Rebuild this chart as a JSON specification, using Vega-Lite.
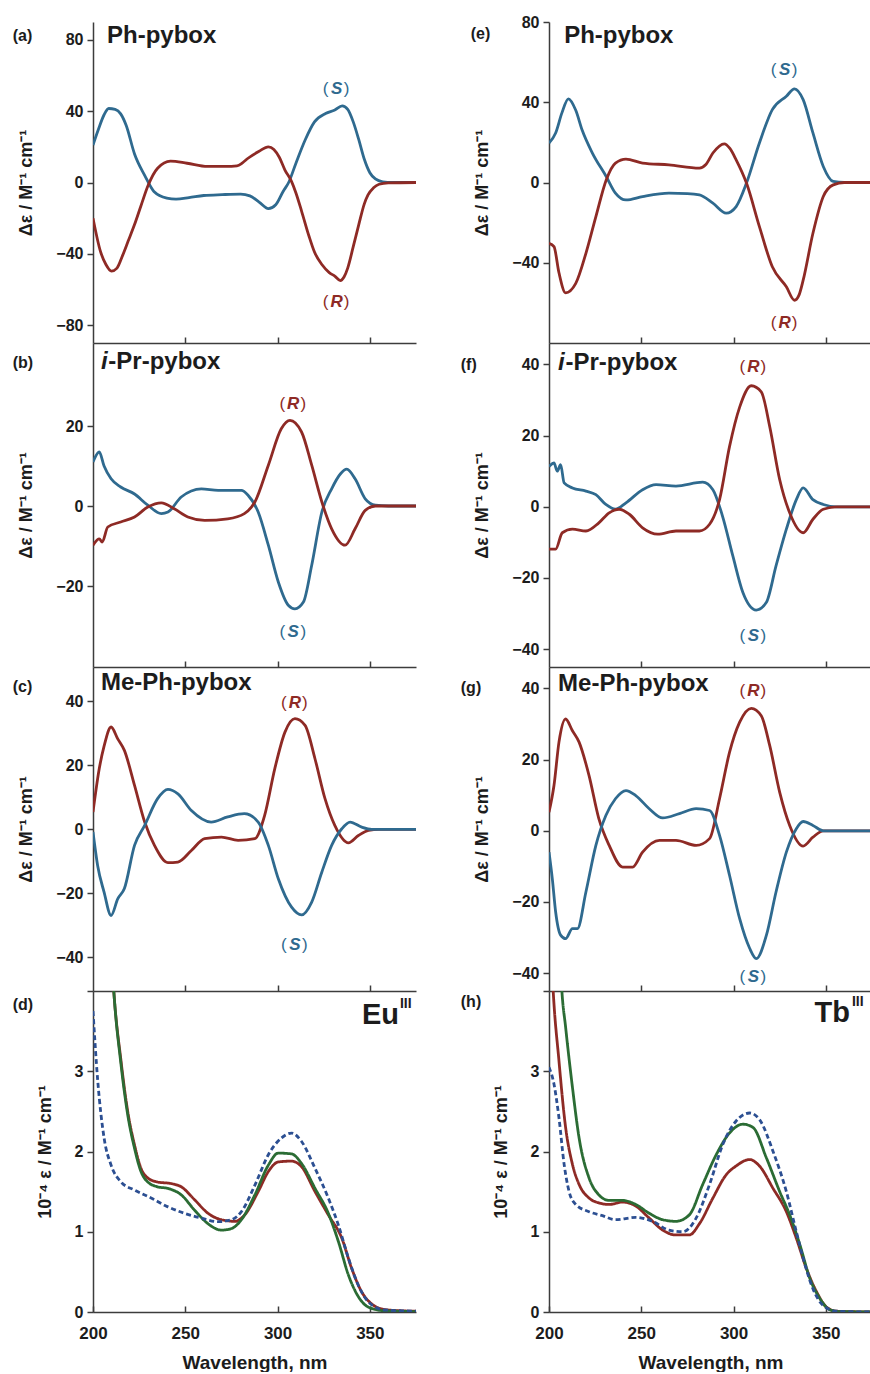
{
"$schema": "https://vega.github.io/schema/vega-lite/v6.json",
"padding": {"left": 12, "top": 14, "right": 0, "bottom": 0},
"background": "white",
"columns": 2,
"spacing": {"row": 0, "column": 133},
"bounds": "flush",
"resolve": {"scale": {"x": "independent", "y": "independent"}},
"datasets": {
"curves": [
{"p":"a","s":"S","wl":200,"v":21},{"p":"a","s":"S","wl":203,"v":30},{"p":"a","s":"S","wl":206,"v":38},{"p":"a","s":"S","wl":208.5,"v":41.5},{"p":"a","s":"S","wl":212,"v":41},{"p":"a","s":"S","wl":215,"v":38.5},{"p":"a","s":"S","wl":218,"v":32},{"p":"a","s":"S","wl":222.5,"v":16},{"p":"a","s":"S","wl":228,"v":4},{"p":"a","s":"S","wl":233,"v":-5},{"p":"a","s":"S","wl":240,"v":-8.7},{"p":"a","s":"S","wl":245,"v":-9.3},{"p":"a","s":"S","wl":252,"v":-8.5},{"p":"a","s":"S","wl":260,"v":-7.3},{"p":"a","s":"S","wl":270,"v":-6.8},{"p":"a","s":"S","wl":280,"v":-6.5},{"p":"a","s":"S","wl":285,"v":-7.5},{"p":"a","s":"S","wl":290,"v":-11},{"p":"a","s":"S","wl":295,"v":-14.7},{"p":"a","s":"S","wl":299,"v":-12.5},{"p":"a","s":"S","wl":303,"v":-5},{"p":"a","s":"S","wl":306,"v":0},{"p":"a","s":"S","wl":310,"v":11},{"p":"a","s":"S","wl":315,"v":24},{"p":"a","s":"S","wl":320,"v":34},{"p":"a","s":"S","wl":326,"v":38.7},{"p":"a","s":"S","wl":331,"v":40.6},{"p":"a","s":"S","wl":335,"v":43},{"p":"a","s":"S","wl":338,"v":41},{"p":"a","s":"S","wl":341,"v":34},{"p":"a","s":"S","wl":344,"v":24},{"p":"a","s":"S","wl":347,"v":13},{"p":"a","s":"S","wl":350,"v":5.5},{"p":"a","s":"S","wl":353,"v":2},{"p":"a","s":"S","wl":357,"v":0.4},{"p":"a","s":"S","wl":362,"v":0},{"p":"a","s":"S","wl":375,"v":0},
{"p":"a","s":"R","wl":200,"v":-20},{"p":"a","s":"R","wl":204,"v":-38.5},{"p":"a","s":"R","wl":207,"v":-46},{"p":"a","s":"R","wl":210,"v":-49.7},{"p":"a","s":"R","wl":213,"v":-48},{"p":"a","s":"R","wl":216,"v":-41},{"p":"a","s":"R","wl":219,"v":-33},{"p":"a","s":"R","wl":222.5,"v":-23.6},{"p":"a","s":"R","wl":226,"v":-13},{"p":"a","s":"R","wl":230,"v":-1.3},{"p":"a","s":"R","wl":235,"v":8},{"p":"a","s":"R","wl":242,"v":12},{"p":"a","s":"R","wl":251,"v":10.8},{"p":"a","s":"R","wl":262,"v":9},{"p":"a","s":"R","wl":272,"v":9},{"p":"a","s":"R","wl":278,"v":9.3},{"p":"a","s":"R","wl":281,"v":11},{"p":"a","s":"R","wl":284,"v":13.6},{"p":"a","s":"R","wl":290,"v":17.5},{"p":"a","s":"R","wl":295,"v":20},{"p":"a","s":"R","wl":298,"v":18.5},{"p":"a","s":"R","wl":301,"v":14},{"p":"a","s":"R","wl":304,"v":7},{"p":"a","s":"R","wl":307.6,"v":0.5},{"p":"a","s":"R","wl":310,"v":-6},{"p":"a","s":"R","wl":313,"v":-16},{"p":"a","s":"R","wl":317,"v":-30},{"p":"a","s":"R","wl":320,"v":-39},{"p":"a","s":"R","wl":324,"v":-46},{"p":"a","s":"R","wl":328,"v":-50.5},{"p":"a","s":"R","wl":331,"v":-52.5},{"p":"a","s":"R","wl":334,"v":-55},{"p":"a","s":"R","wl":336,"v":-53},{"p":"a","s":"R","wl":338,"v":-48},{"p":"a","s":"R","wl":341,"v":-36},{"p":"a","s":"R","wl":344,"v":-23.6},{"p":"a","s":"R","wl":347,"v":-12},{"p":"a","s":"R","wl":349,"v":-7},{"p":"a","s":"R","wl":352,"v":-3},{"p":"a","s":"R","wl":355,"v":-1},{"p":"a","s":"R","wl":360,"v":-0.2},{"p":"a","s":"R","wl":375,"v":0},
{"p":"e","s":"S","wl":200,"v":19.7},{"p":"e","s":"S","wl":203.6,"v":24.7},{"p":"e","s":"S","wl":207,"v":34.7},{"p":"e","s":"S","wl":210.5,"v":41.7},{"p":"e","s":"S","wl":214.5,"v":36},{"p":"e","s":"S","wl":218,"v":26},{"p":"e","s":"S","wl":223.5,"v":14.7},{"p":"e","s":"S","wl":231,"v":3},{"p":"e","s":"S","wl":236,"v":-5.3},{"p":"e","s":"S","wl":241.7,"v":-8.7},{"p":"e","s":"S","wl":250.7,"v":-7},{"p":"e","s":"S","wl":265,"v":-5.3},{"p":"e","s":"S","wl":275,"v":-5.5},{"p":"e","s":"S","wl":281.5,"v":-6.2},{"p":"e","s":"S","wl":288.8,"v":-10.3},{"p":"e","s":"S","wl":296,"v":-15.3},{"p":"e","s":"S","wl":301.4,"v":-12},{"p":"e","s":"S","wl":307,"v":-0.3},{"p":"e","s":"S","wl":314,"v":19.7},{"p":"e","s":"S","wl":321,"v":36.3},{"p":"e","s":"S","wl":328.6,"v":43},{"p":"e","s":"S","wl":333,"v":46.7},{"p":"e","s":"S","wl":337.7,"v":41.3},{"p":"e","s":"S","wl":343,"v":24.7},{"p":"e","s":"S","wl":348.6,"v":8},{"p":"e","s":"S","wl":354,"v":0.5},{"p":"e","s":"S","wl":360,"v":0},{"p":"e","s":"S","wl":375,"v":0},
{"p":"e","s":"R","wl":200,"v":-30.3},{"p":"e","s":"R","wl":202.7,"v":-32},{"p":"e","s":"R","wl":205.4,"v":-45},{"p":"e","s":"R","wl":209,"v":-55},{"p":"e","s":"R","wl":214.5,"v":-50.3},{"p":"e","s":"R","wl":220,"v":-35.3},{"p":"e","s":"R","wl":225.4,"v":-17},{"p":"e","s":"R","wl":231,"v":1.3},{"p":"e","s":"R","wl":236,"v":9.7},{"p":"e","s":"R","wl":241.7,"v":11.7},{"p":"e","s":"R","wl":250.7,"v":9.7},{"p":"e","s":"R","wl":265,"v":8.8},{"p":"e","s":"R","wl":281.5,"v":7.2},{"p":"e","s":"R","wl":285,"v":9},{"p":"e","s":"R","wl":288.8,"v":14.7},{"p":"e","s":"R","wl":295,"v":19.3},{"p":"e","s":"R","wl":298,"v":17},{"p":"e","s":"R","wl":301.4,"v":11.3},{"p":"e","s":"R","wl":307,"v":-0.3},{"p":"e","s":"R","wl":314,"v":-22},{"p":"e","s":"R","wl":321,"v":-42},{"p":"e","s":"R","wl":328.6,"v":-52},{"p":"e","s":"R","wl":333,"v":-58.7},{"p":"e","s":"R","wl":335.5,"v":-56},{"p":"e","s":"R","wl":337.7,"v":-48.7},{"p":"e","s":"R","wl":343,"v":-25.3},{"p":"e","s":"R","wl":348.6,"v":-7},{"p":"e","s":"R","wl":354,"v":-1.2},{"p":"e","s":"R","wl":360,"v":0},{"p":"e","s":"R","wl":375,"v":0},
{"p":"b","s":"S","wl":200,"v":11},{"p":"b","s":"S","wl":203.4,"v":13.5},{"p":"b","s":"S","wl":206,"v":10},{"p":"b","s":"S","wl":209.8,"v":6.8},{"p":"b","s":"S","wl":215,"v":4.75},{"p":"b","s":"S","wl":222.5,"v":3},{"p":"b","s":"S","wl":229.7,"v":0.2},{"p":"b","s":"S","wl":237,"v":-1.9},{"p":"b","s":"S","wl":240.6,"v":-1.5},{"p":"b","s":"S","wl":247.8,"v":2.25},{"p":"b","s":"S","wl":258.7,"v":4.3},{"p":"b","s":"S","wl":267.8,"v":3.9},{"p":"b","s":"S","wl":280.4,"v":3.9},{"p":"b","s":"S","wl":284,"v":2.7},{"p":"b","s":"S","wl":289.5,"v":-1.5},{"p":"b","s":"S","wl":295,"v":-9.8},{"p":"b","s":"S","wl":300.4,"v":-19},{"p":"b","s":"S","wl":305.8,"v":-24.8},{"p":"b","s":"S","wl":309.4,"v":-25.7},{"p":"b","s":"S","wl":314,"v":-24},{"p":"b","s":"S","wl":318.5,"v":-14.8},{"p":"b","s":"S","wl":324,"v":-1.5},{"p":"b","s":"S","wl":329.3,"v":4.3},{"p":"b","s":"S","wl":334,"v":8},{"p":"b","s":"S","wl":337.5,"v":9.2},{"p":"b","s":"S","wl":342,"v":6.8},{"p":"b","s":"S","wl":347.5,"v":1.8},{"p":"b","s":"S","wl":353,"v":0.2},{"p":"b","s":"S","wl":360,"v":0},{"p":"b","s":"S","wl":375,"v":0},
{"p":"b","s":"R","wl":200,"v":-9.8},{"p":"b","s":"R","wl":203.4,"v":-8.2},{"p":"b","s":"R","wl":205,"v":-9},{"p":"b","s":"R","wl":208,"v":-5.25},{"p":"b","s":"R","wl":215,"v":-4},{"p":"b","s":"R","wl":222.5,"v":-2.75},{"p":"b","s":"R","wl":229.7,"v":-0.25},{"p":"b","s":"R","wl":237,"v":0.8},{"p":"b","s":"R","wl":244,"v":-0.7},{"p":"b","s":"R","wl":251.4,"v":-2.75},{"p":"b","s":"R","wl":260.5,"v":-3.6},{"p":"b","s":"R","wl":273,"v":-3.2},{"p":"b","s":"R","wl":282,"v":-1.9},{"p":"b","s":"R","wl":287.7,"v":1},{"p":"b","s":"R","wl":295,"v":10.2},{"p":"b","s":"R","wl":302,"v":19.3},{"p":"b","s":"R","wl":306.7,"v":21.4},{"p":"b","s":"R","wl":313,"v":18.5},{"p":"b","s":"R","wl":318.5,"v":10.2},{"p":"b","s":"R","wl":324,"v":1},{"p":"b","s":"R","wl":329.3,"v":-5.7},{"p":"b","s":"R","wl":336.6,"v":-9.8},{"p":"b","s":"R","wl":342,"v":-5.7},{"p":"b","s":"R","wl":347.5,"v":-1.1},{"p":"b","s":"R","wl":353,"v":0},{"p":"b","s":"R","wl":375,"v":0},
{"p":"f","s":"S","wl":200,"v":11.3},{"p":"f","s":"S","wl":202.7,"v":12.3},{"p":"f","s":"S","wl":204.5,"v":10},{"p":"f","s":"S","wl":206.3,"v":11.8},{"p":"f","s":"S","wl":208.2,"v":6.7},{"p":"f","s":"S","wl":212.7,"v":5.3},{"p":"f","s":"S","wl":220,"v":4.4},{"p":"f","s":"S","wl":225.4,"v":3.4},{"p":"f","s":"S","wl":230.8,"v":0.65},{"p":"f","s":"S","wl":236,"v":-0.7},{"p":"f","s":"S","wl":241.7,"v":1.1},{"p":"f","s":"S","wl":250.7,"v":4.8},{"p":"f","s":"S","wl":258,"v":6.2},{"p":"f","s":"S","wl":268.8,"v":5.8},{"p":"f","s":"S","wl":283.3,"v":6.9},{"p":"f","s":"S","wl":288.8,"v":4.8},{"p":"f","s":"S","wl":294,"v":-2.6},{"p":"f","s":"S","wl":299.6,"v":-13.8},{"p":"f","s":"S","wl":305,"v":-24},{"p":"f","s":"S","wl":312.3,"v":-29},{"p":"f","s":"S","wl":317.8,"v":-26.8},{"p":"f","s":"S","wl":323,"v":-16.6},{"p":"f","s":"S","wl":328.6,"v":-6.3},{"p":"f","s":"S","wl":334,"v":2},{"p":"f","s":"S","wl":337.7,"v":5.3},{"p":"f","s":"S","wl":343,"v":2},{"p":"f","s":"S","wl":348.6,"v":0.65},{"p":"f","s":"S","wl":355.8,"v":0},{"p":"f","s":"S","wl":375,"v":0},
{"p":"f","s":"R","wl":200,"v":-11.9},{"p":"f","s":"R","wl":203.6,"v":-11.9},{"p":"f","s":"R","wl":207.2,"v":-7.3},{"p":"f","s":"R","wl":212.7,"v":-6.3},{"p":"f","s":"R","wl":220,"v":-6.8},{"p":"f","s":"R","wl":227,"v":-4.5},{"p":"f","s":"R","wl":232.6,"v":-1.7},{"p":"f","s":"R","wl":238,"v":-0.7},{"p":"f","s":"R","wl":243.5,"v":-2.1},{"p":"f","s":"R","wl":250.7,"v":-5.9},{"p":"f","s":"R","wl":258.9,"v":-7.7},{"p":"f","s":"R","wl":268.8,"v":-6.8},{"p":"f","s":"R","wl":281.5,"v":-6.8},{"p":"f","s":"R","wl":287,"v":-4.9},{"p":"f","s":"R","wl":292.4,"v":2},{"p":"f","s":"R","wl":297.8,"v":16.9},{"p":"f","s":"R","wl":303.3,"v":28},{"p":"f","s":"R","wl":309.6,"v":34},{"p":"f","s":"R","wl":315,"v":32.3},{"p":"f","s":"R","wl":319.6,"v":22.5},{"p":"f","s":"R","wl":325,"v":7.6},{"p":"f","s":"R","wl":330.4,"v":-1.7},{"p":"f","s":"R","wl":337.7,"v":-7.3},{"p":"f","s":"R","wl":343,"v":-3.5},{"p":"f","s":"R","wl":348.6,"v":-0.7},{"p":"f","s":"R","wl":355.8,"v":0},{"p":"f","s":"R","wl":375,"v":0},
{"p":"c","s":"R","wl":200,"v":5.4},{"p":"c","s":"R","wl":203.4,"v":19},{"p":"c","s":"R","wl":206,"v":26},{"p":"c","s":"R","wl":209.8,"v":32},{"p":"c","s":"R","wl":213.4,"v":28.3},{"p":"c","s":"R","wl":217,"v":24.7},{"p":"c","s":"R","wl":222.5,"v":13.75},{"p":"c","s":"R","wl":228,"v":2.3},{"p":"c","s":"R","wl":233.3,"v":-5},{"p":"c","s":"R","wl":240.6,"v":-10.4},{"p":"c","s":"R","wl":246,"v":-10.2},{"p":"c","s":"R","wl":253.3,"v":-6.6},{"p":"c","s":"R","wl":260.5,"v":-2.9},{"p":"c","s":"R","wl":269.6,"v":-2.4},{"p":"c","s":"R","wl":278.6,"v":-3.4},{"p":"c","s":"R","wl":287.7,"v":-2.9},{"p":"c","s":"R","wl":293,"v":4.4},{"p":"c","s":"R","wl":298.5,"v":19},{"p":"c","s":"R","wl":304,"v":30.4},{"p":"c","s":"R","wl":309.4,"v":34.6},{"p":"c","s":"R","wl":314.9,"v":32.5},{"p":"c","s":"R","wl":320.3,"v":22},{"p":"c","s":"R","wl":325.7,"v":9.6},{"p":"c","s":"R","wl":331,"v":1.25},{"p":"c","s":"R","wl":338.4,"v":-4.2},{"p":"c","s":"R","wl":343.8,"v":-1.9},{"p":"c","s":"R","wl":349.3,"v":-0.3},{"p":"c","s":"R","wl":355,"v":0},{"p":"c","s":"R","wl":375,"v":0},
{"p":"c","s":"S","wl":200,"v":-0.8},{"p":"c","s":"S","wl":202.5,"v":-11.25},{"p":"c","s":"S","wl":206,"v":-19.6},{"p":"c","s":"S","wl":209.8,"v":-26.9},{"p":"c","s":"S","wl":213.4,"v":-21.7},{"p":"c","s":"S","wl":217,"v":-18.5},{"p":"c","s":"S","wl":222.5,"v":-5},{"p":"c","s":"S","wl":228,"v":1.25},{"p":"c","s":"S","wl":235,"v":9.6},{"p":"c","s":"S","wl":240.6,"v":12.5},{"p":"c","s":"S","wl":246,"v":11.1},{"p":"c","s":"S","wl":253.3,"v":5.9},{"p":"c","s":"S","wl":264,"v":2.3},{"p":"c","s":"S","wl":273,"v":3.9},{"p":"c","s":"S","wl":282,"v":4.9},{"p":"c","s":"S","wl":289.5,"v":2.3},{"p":"c","s":"S","wl":295,"v":-5},{"p":"c","s":"S","wl":300.4,"v":-15.4},{"p":"c","s":"S","wl":307.6,"v":-24.3},{"p":"c","s":"S","wl":313,"v":-26.7},{"p":"c","s":"S","wl":318.5,"v":-22.7},{"p":"c","s":"S","wl":324,"v":-13.3},{"p":"c","s":"S","wl":329.3,"v":-5},{"p":"c","s":"S","wl":334.8,"v":0.2},{"p":"c","s":"S","wl":339.3,"v":2.3},{"p":"c","s":"S","wl":345.6,"v":0.7},{"p":"c","s":"S","wl":351,"v":0},{"p":"c","s":"S","wl":375,"v":0},
{"p":"g","s":"R","wl":200,"v":5.2},{"p":"g","s":"R","wl":202.7,"v":12.7},{"p":"g","s":"R","wl":205.4,"v":24.9},{"p":"g","s":"R","wl":209,"v":31.4},{"p":"g","s":"R","wl":212.7,"v":28.1},{"p":"g","s":"R","wl":216.3,"v":24.9},{"p":"g","s":"R","wl":221.7,"v":15.5},{"p":"g","s":"R","wl":227,"v":3.4},{"p":"g","s":"R","wl":232.6,"v":-4.1},{"p":"g","s":"R","wl":239.9,"v":-10.2},{"p":"g","s":"R","wl":245.3,"v":-10.2},{"p":"g","s":"R","wl":250.7,"v":-6},{"p":"g","s":"R","wl":259.8,"v":-2.7},{"p":"g","s":"R","wl":268.8,"v":-2.7},{"p":"g","s":"R","wl":279.7,"v":-4.1},{"p":"g","s":"R","wl":287,"v":-2.2},{"p":"g","s":"R","wl":292.4,"v":9},{"p":"g","s":"R","wl":297.8,"v":22},{"p":"g","s":"R","wl":303.3,"v":30.5},{"p":"g","s":"R","wl":309.6,"v":34.4},{"p":"g","s":"R","wl":315,"v":32.3},{"p":"g","s":"R","wl":319.6,"v":23.9},{"p":"g","s":"R","wl":325,"v":10.8},{"p":"g","s":"R","wl":330.4,"v":1.5},{"p":"g","s":"R","wl":337.7,"v":-4.3},{"p":"g","s":"R","wl":343,"v":-1.8},{"p":"g","s":"R","wl":348.6,"v":0},{"p":"g","s":"R","wl":375,"v":0},
{"p":"g","s":"S","wl":200,"v":-6},{"p":"g","s":"S","wl":201.8,"v":-13.5},{"p":"g","s":"S","wl":203.6,"v":-22.8},{"p":"g","s":"S","wl":206.3,"v":-29.3},{"p":"g","s":"S","wl":209,"v":-30.3},{"p":"g","s":"S","wl":212.7,"v":-27.5},{"p":"g","s":"S","wl":215.4,"v":-27.5},{"p":"g","s":"S","wl":220,"v":-17.2},{"p":"g","s":"S","wl":225.4,"v":-4.1},{"p":"g","s":"S","wl":230.8,"v":4.3},{"p":"g","s":"S","wl":236,"v":9},{"p":"g","s":"S","wl":241.7,"v":11.3},{"p":"g","s":"S","wl":247,"v":9.9},{"p":"g","s":"S","wl":254.3,"v":6.2},{"p":"g","s":"S","wl":261.6,"v":3.6},{"p":"g","s":"S","wl":270.7,"v":4.8},{"p":"g","s":"S","wl":279.7,"v":6.2},{"p":"g","s":"S","wl":287,"v":5.7},{"p":"g","s":"S","wl":292.4,"v":-1.3},{"p":"g","s":"S","wl":297.8,"v":-12.5},{"p":"g","s":"S","wl":303.3,"v":-24.7},{"p":"g","s":"S","wl":308.7,"v":-33},{"p":"g","s":"S","wl":312.3,"v":-35.9},{"p":"g","s":"S","wl":317.8,"v":-29.3},{"p":"g","s":"S","wl":323,"v":-17.2},{"p":"g","s":"S","wl":328.6,"v":-6},{"p":"g","s":"S","wl":334,"v":0.6},{"p":"g","s":"S","wl":337.7,"v":2.6},{"p":"g","s":"S","wl":343,"v":1.5},{"p":"g","s":"S","wl":348.6,"v":0},{"p":"g","s":"S","wl":375,"v":0},
{"p":"d","s":"R","wl":209,"v":4.9},{"p":"d","s":"R","wl":211.2,"v":4.02},{"p":"d","s":"R","wl":215.2,"v":3.125},{"p":"d","s":"R","wl":218.8,"v":2.5},{"p":"d","s":"R","wl":222.5,"v":2.08},{"p":"d","s":"R","wl":226,"v":1.79},{"p":"d","s":"R","wl":229.7,"v":1.67},{"p":"d","s":"R","wl":235,"v":1.62},{"p":"d","s":"R","wl":242.4,"v":1.6},{"p":"d","s":"R","wl":247.8,"v":1.56},{"p":"d","s":"R","wl":255,"v":1.4},{"p":"d","s":"R","wl":262.3,"v":1.23},{"p":"d","s":"R","wl":269.6,"v":1.15},{"p":"d","s":"R","wl":276.8,"v":1.13},{"p":"d","s":"R","wl":282.2,"v":1.21},{"p":"d","s":"R","wl":289.5,"v":1.5},{"p":"d","s":"R","wl":295,"v":1.75},{"p":"d","s":"R","wl":300.4,"v":1.87},{"p":"d","s":"R","wl":307.6,"v":1.88},{"p":"d","s":"R","wl":313,"v":1.81},{"p":"d","s":"R","wl":320.3,"v":1.5},{"p":"d","s":"R","wl":327.5,"v":1.21},{"p":"d","s":"R","wl":334.8,"v":0.92},{"p":"d","s":"R","wl":340.2,"v":0.54},{"p":"d","s":"R","wl":345.6,"v":0.25},{"p":"d","s":"R","wl":351,"v":0.1},{"p":"d","s":"R","wl":358.3,"v":0.03},{"p":"d","s":"R","wl":367,"v":0.015},{"p":"d","s":"R","wl":375,"v":0.01},
{"p":"d","s":"G","wl":209,"v":4.9},{"p":"d","s":"G","wl":211.2,"v":4.02},{"p":"d","s":"G","wl":215.2,"v":3.08},{"p":"d","s":"G","wl":218.8,"v":2.46},{"p":"d","s":"G","wl":222.5,"v":2.04},{"p":"d","s":"G","wl":226,"v":1.75},{"p":"d","s":"G","wl":229.7,"v":1.62},{"p":"d","s":"G","wl":235,"v":1.56},{"p":"d","s":"G","wl":240.6,"v":1.54},{"p":"d","s":"G","wl":247.8,"v":1.46},{"p":"d","s":"G","wl":255,"v":1.27},{"p":"d","s":"G","wl":262.3,"v":1.1},{"p":"d","s":"G","wl":269.6,"v":1.02},{"p":"d","s":"G","wl":275,"v":1.04},{"p":"d","s":"G","wl":280.4,"v":1.15},{"p":"d","s":"G","wl":287.7,"v":1.46},{"p":"d","s":"G","wl":295,"v":1.83},{"p":"d","s":"G","wl":300.4,"v":1.98},{"p":"d","s":"G","wl":307.6,"v":1.97},{"p":"d","s":"G","wl":313,"v":1.85},{"p":"d","s":"G","wl":320.3,"v":1.54},{"p":"d","s":"G","wl":327.5,"v":1.23},{"p":"d","s":"G","wl":333,"v":0.875},{"p":"d","s":"G","wl":338.4,"v":0.46},{"p":"d","s":"G","wl":343.8,"v":0.19},{"p":"d","s":"G","wl":349.3,"v":0.06},{"p":"d","s":"G","wl":358,"v":0.015},{"p":"d","s":"G","wl":375,"v":0.005},
{"p":"d","s":"B","wl":200,"v":3.75},{"p":"d","s":"B","wl":202.5,"v":2.9},{"p":"d","s":"B","wl":206,"v":2.17},{"p":"d","s":"B","wl":209.8,"v":1.83},{"p":"d","s":"B","wl":215.2,"v":1.62},{"p":"d","s":"B","wl":222.5,"v":1.52},{"p":"d","s":"B","wl":231.5,"v":1.42},{"p":"d","s":"B","wl":240.6,"v":1.31},{"p":"d","s":"B","wl":249.6,"v":1.23},{"p":"d","s":"B","wl":258.7,"v":1.17},{"p":"d","s":"B","wl":267.8,"v":1.125},{"p":"d","s":"B","wl":275,"v":1.15},{"p":"d","s":"B","wl":280.4,"v":1.25},{"p":"d","s":"B","wl":287.7,"v":1.58},{"p":"d","s":"B","wl":295,"v":1.96},{"p":"d","s":"B","wl":302.2,"v":2.17},{"p":"d","s":"B","wl":307.6,"v":2.23},{"p":"d","s":"B","wl":313,"v":2.125},{"p":"d","s":"B","wl":320.3,"v":1.79},{"p":"d","s":"B","wl":327.5,"v":1.42},{"p":"d","s":"B","wl":333,"v":1.08},{"p":"d","s":"B","wl":338.4,"v":0.67},{"p":"d","s":"B","wl":343.8,"v":0.33},{"p":"d","s":"B","wl":349.3,"v":0.125},{"p":"d","s":"B","wl":358,"v":0.025},{"p":"d","s":"B","wl":375,"v":0.01},
{"p":"h","s":"R","wl":201,"v":4.6},{"p":"h","s":"R","wl":202.2,"v":4.03},{"p":"h","s":"R","wl":205.4,"v":3.13},{"p":"h","s":"R","wl":209,"v":2.3},{"p":"h","s":"R","wl":212.7,"v":1.84},{"p":"h","s":"R","wl":216.3,"v":1.59},{"p":"h","s":"R","wl":221.7,"v":1.42},{"p":"h","s":"R","wl":227,"v":1.36},{"p":"h","s":"R","wl":232.6,"v":1.34},{"p":"h","s":"R","wl":239.9,"v":1.37},{"p":"h","s":"R","wl":247,"v":1.32},{"p":"h","s":"R","wl":254.3,"v":1.17},{"p":"h","s":"R","wl":261.6,"v":1.02},{"p":"h","s":"R","wl":268.8,"v":0.96},{"p":"h","s":"R","wl":276,"v":0.96},{"p":"h","s":"R","wl":281.5,"v":1.1},{"p":"h","s":"R","wl":288.8,"v":1.42},{"p":"h","s":"R","wl":296,"v":1.71},{"p":"h","s":"R","wl":301.4,"v":1.82},{"p":"h","s":"R","wl":308.7,"v":1.9},{"p":"h","s":"R","wl":314,"v":1.82},{"p":"h","s":"R","wl":321.4,"v":1.54},{"p":"h","s":"R","wl":328.6,"v":1.25},{"p":"h","s":"R","wl":334,"v":0.92},{"p":"h","s":"R","wl":339.5,"v":0.54},{"p":"h","s":"R","wl":345,"v":0.25},{"p":"h","s":"R","wl":350.4,"v":0.06},{"p":"h","s":"R","wl":355.8,"v":0.01},{"p":"h","s":"R","wl":375,"v":0},
{"p":"h","s":"G","wl":205.5,"v":4.7},{"p":"h","s":"G","wl":206.9,"v":4.03},{"p":"h","s":"G","wl":209,"v":3.55},{"p":"h","s":"G","wl":212.7,"v":2.8},{"p":"h","s":"G","wl":216.3,"v":2.17},{"p":"h","s":"G","wl":221.7,"v":1.67},{"p":"h","s":"G","wl":227,"v":1.46},{"p":"h","s":"G","wl":232.6,"v":1.39},{"p":"h","s":"G","wl":239.9,"v":1.39},{"p":"h","s":"G","wl":247,"v":1.34},{"p":"h","s":"G","wl":254.3,"v":1.23},{"p":"h","s":"G","wl":261.6,"v":1.15},{"p":"h","s":"G","wl":268.8,"v":1.13},{"p":"h","s":"G","wl":276,"v":1.21},{"p":"h","s":"G","wl":283.3,"v":1.59},{"p":"h","s":"G","wl":290.6,"v":1.96},{"p":"h","s":"G","wl":297.8,"v":2.23},{"p":"h","s":"G","wl":305,"v":2.34},{"p":"h","s":"G","wl":310.5,"v":2.3},{"p":"h","s":"G","wl":317.8,"v":1.92},{"p":"h","s":"G","wl":325,"v":1.5},{"p":"h","s":"G","wl":330.4,"v":1.21},{"p":"h","s":"G","wl":335.9,"v":0.84},{"p":"h","s":"G","wl":341.3,"v":0.42},{"p":"h","s":"G","wl":346.7,"v":0.17},{"p":"h","s":"G","wl":352,"v":0.03},{"p":"h","s":"G","wl":357.6,"v":0.005},{"p":"h","s":"G","wl":375,"v":0},
{"p":"h","s":"B","wl":200,"v":3.05},{"p":"h","s":"B","wl":202.7,"v":2.84},{"p":"h","s":"B","wl":205.4,"v":2.42},{"p":"h","s":"B","wl":208.2,"v":1.84},{"p":"h","s":"B","wl":210.9,"v":1.5},{"p":"h","s":"B","wl":214.5,"v":1.34},{"p":"h","s":"B","wl":221.7,"v":1.25},{"p":"h","s":"B","wl":229,"v":1.2},{"p":"h","s":"B","wl":236,"v":1.15},{"p":"h","s":"B","wl":247,"v":1.18},{"p":"h","s":"B","wl":256,"v":1.13},{"p":"h","s":"B","wl":265,"v":1.02},{"p":"h","s":"B","wl":272.5,"v":1},{"p":"h","s":"B","wl":279.7,"v":1.17},{"p":"h","s":"B","wl":287,"v":1.59},{"p":"h","s":"B","wl":294.2,"v":2.09},{"p":"h","s":"B","wl":301.4,"v":2.38},{"p":"h","s":"B","wl":308.7,"v":2.48},{"p":"h","s":"B","wl":314,"v":2.4},{"p":"h","s":"B","wl":321.4,"v":2},{"p":"h","s":"B","wl":328.6,"v":1.5},{"p":"h","s":"B","wl":334,"v":1},{"p":"h","s":"B","wl":337.7,"v":0.67},{"p":"h","s":"B","wl":343,"v":0.29},{"p":"h","s":"B","wl":348.6,"v":0.08},{"p":"h","s":"B","wl":355.8,"v":0.01},{"p":"h","s":"B","wl":375,"v":0}
],
"txt": [
{"p":"a","k":"tag","t":"(a)","wl":156.5,"v":82},{"p":"a","k":"title","t":"Ph-pybox","wl":207.6,"v":82},{"p":"a","k":"sr","s":"S","t":"S","wl":332,"v":52.4},{"p":"a","k":"sr","s":"R","t":"R","wl":332,"v":-67},
{"p":"b","k":"tag","t":"(b)","wl":156.5,"v":35.75},{"p":"b","k":"ital","t":"i","wl":204.3,"v":36},{"p":"b","k":"title","t":"-Pr-pybox","wl":208.3,"v":36},{"p":"b","k":"sr","s":"R","t":"R","wl":308.5,"v":25.5},{"p":"b","k":"sr","s":"S","t":"S","wl":308.5,"v":-31.5},
{"p":"c","k":"tag","t":"(c)","wl":156.5,"v":44.4},{"p":"c","k":"title","t":"Me-Ph-pybox","wl":204.3,"v":45.6},{"p":"c","k":"sr","s":"R","t":"R","wl":309.4,"v":39.4},{"p":"c","k":"sr","s":"S","t":"S","wl":309.4,"v":-36.25},
{"p":"d","k":"tag","t":"(d)","wl":156.5,"v":3.825},{"p":"d","k":"ion","t":"Eu","wl":365.8,"v":3.7},{"p":"d","k":"sup","t":"III","wl":366.3,"v":3.84},
{"p":"e","k":"tag","t":"(e)","wl":157.6,"v":74},{"p":"e","k":"title","t":"Ph-pybox","wl":208.2,"v":73},{"p":"e","k":"sr","s":"S","t":"S","wl":327.7,"v":56},{"p":"e","k":"sr","s":"R","t":"R","wl":327.7,"v":-70},
{"p":"f","k":"tag","t":"(f)","wl":152.2,"v":39.7},{"p":"f","k":"ital","t":"i","wl":204.9,"v":40.3},{"p":"f","k":"title","t":"-Pr-pybox","wl":208.9,"v":40.3},{"p":"f","k":"sr","s":"R","t":"R","wl":310.7,"v":39.2},{"p":"f","k":"sr","s":"S","t":"S","wl":310.7,"v":-36.3},
{"p":"g","k":"tag","t":"(g)","wl":152.2,"v":40},{"p":"g","k":"title","t":"Me-Ph-pybox","wl":204.9,"v":41.1},{"p":"g","k":"sr","s":"R","t":"R","wl":310.7,"v":39.2},{"p":"g","k":"sr","s":"S","t":"S","wl":310.7,"v":-41.1},
{"p":"h","k":"tag","t":"(h)","wl":152.2,"v":3.86},{"p":"h","k":"ion","t":"Tb","wl":363,"v":3.72},{"p":"h","k":"sup","t":"III","wl":364.1,"v":3.86}
]
},
"concat": [
{"width":323,"height":321,
 "encoding":{"x":{"field":"wl","type":"quantitative","scale":{"domain":[200,375],"nice":false,"zero":false},"axis":{"values":[250,300,350],"labels":false,"title":null}},
  "y":{"field":"v","type":"quantitative","scale":{"domain":[-90,90],"nice":false,"zero":false},"axis":{"values":[-80,-40,0,40,80],"title":"Δε / M⁻¹ cm⁻¹"}}},
 "layer":[
  {"data":{"name":"curves"},"transform":[{"filter":"datum.p=='a'"}],"mark":{"type":"line","interpolate":"monotone","strokeWidth":2.8,"clip":true},"encoding":{"color":{"field":"s","type":"nominal","scale":{"domain":["S","R","G","B"],"range":["#2f6a8f","#8e2a25","#2b6c34","#2c4f92"]},"legend":null}}},
  {"data":{"name":"txt"},"transform":[{"filter":"datum.p=='a' && datum.k=='tag'"}],"mark":{"type":"text","align":"left","baseline":"middle","fontSize":16},"encoding":{"text":{"field":"t"}}},
  {"data":{"name":"txt"},"transform":[{"filter":"datum.p=='a' && datum.k=='title'"}],"mark":{"type":"text","align":"left","baseline":"middle","fontSize":24},"encoding":{"text":{"field":"t"}}},
  {"data":{"name":"txt"},"transform":[{"filter":"datum.p=='a' && datum.k=='sr'"}],"mark":{"type":"text","align":"center","baseline":"middle","fontSize":17,"fontStyle":"italic"},"encoding":{"text":{"field":"t"},"color":{"field":"s","type":"nominal","scale":{"domain":["S","R","G","B"],"range":["#2f6a8f","#8e2a25","#2b6c34","#2c4f92"]},"legend":null}}},
  {"data":{"name":"txt"},"transform":[{"filter":"datum.p=='a' && datum.k=='sr'"}],"mark":{"type":"text","align":"center","baseline":"middle","fontSize":17,"fontWeight":"normal","dx":-11},"encoding":{"text":{"value":"("},"color":{"field":"s","type":"nominal","scale":{"domain":["S","R","G","B"],"range":["#2f6a8f","#8e2a25","#2b6c34","#2c4f92"]},"legend":null}}},
  {"data":{"name":"txt"},"transform":[{"filter":"datum.p=='a' && datum.k=='sr'"}],"mark":{"type":"text","align":"center","baseline":"middle","fontSize":17,"fontWeight":"normal","dx":10},"encoding":{"text":{"value":")"},"color":{"field":"s","type":"nominal","scale":{"domain":["S","R","G","B"],"range":["#2f6a8f","#8e2a25","#2b6c34","#2c4f92"]},"legend":null}}}
 ]},
{"width":323,"height":321,
 "encoding":{"x":{"field":"wl","type":"quantitative","scale":{"domain":[200,375],"nice":false,"zero":false},"axis":{"values":[250,300,350],"labels":false,"title":null}},
  "y":{"field":"v","type":"quantitative","scale":{"domain":[-80,80],"nice":false,"zero":false},"axis":{"values":[-40,0,40,80],"title":"Δε / M⁻¹ cm⁻¹"}}},
 "layer":[
  {"data":{"name":"curves"},"transform":[{"filter":"datum.p=='e'"}],"mark":{"type":"line","interpolate":"monotone","strokeWidth":2.8,"clip":true},"encoding":{"color":{"field":"s","type":"nominal","scale":{"domain":["S","R","G","B"],"range":["#2f6a8f","#8e2a25","#2b6c34","#2c4f92"]},"legend":null}}},
  {"data":{"name":"txt"},"transform":[{"filter":"datum.p=='e' && datum.k=='tag'"}],"mark":{"type":"text","align":"left","baseline":"middle","fontSize":16},"encoding":{"text":{"field":"t"}}},
  {"data":{"name":"txt"},"transform":[{"filter":"datum.p=='e' && datum.k=='title'"}],"mark":{"type":"text","align":"left","baseline":"middle","fontSize":24},"encoding":{"text":{"field":"t"}}},
  {"data":{"name":"txt"},"transform":[{"filter":"datum.p=='e' && datum.k=='sr'"}],"mark":{"type":"text","align":"center","baseline":"middle","fontSize":17,"fontStyle":"italic"},"encoding":{"text":{"field":"t"},"color":{"field":"s","type":"nominal","scale":{"domain":["S","R","G","B"],"range":["#2f6a8f","#8e2a25","#2b6c34","#2c4f92"]},"legend":null}}},
  {"data":{"name":"txt"},"transform":[{"filter":"datum.p=='e' && datum.k=='sr'"}],"mark":{"type":"text","align":"center","baseline":"middle","fontSize":17,"fontWeight":"normal","dx":-11},"encoding":{"text":{"value":"("},"color":{"field":"s","type":"nominal","scale":{"domain":["S","R","G","B"],"range":["#2f6a8f","#8e2a25","#2b6c34","#2c4f92"]},"legend":null}}},
  {"data":{"name":"txt"},"transform":[{"filter":"datum.p=='e' && datum.k=='sr'"}],"mark":{"type":"text","align":"center","baseline":"middle","fontSize":17,"fontWeight":"normal","dx":10},"encoding":{"text":{"value":")"},"color":{"field":"s","type":"nominal","scale":{"domain":["S","R","G","B"],"range":["#2f6a8f","#8e2a25","#2b6c34","#2c4f92"]},"legend":null}}}
 ]},
{"width":323,"height":324,
 "encoding":{"x":{"field":"wl","type":"quantitative","scale":{"domain":[200,375],"nice":false,"zero":false},"axis":{"values":[250,300,350],"labels":false,"title":null}},
  "y":{"field":"v","type":"quantitative","scale":{"domain":[-40.25,40.75],"nice":false,"zero":false},"axis":{"values":[-20,0,20],"title":"Δε / M⁻¹ cm⁻¹"}}},
 "layer":[
  {"data":{"name":"curves"},"transform":[{"filter":"datum.p=='b'"}],"mark":{"type":"line","interpolate":"monotone","strokeWidth":2.8,"clip":true},"encoding":{"color":{"field":"s","type":"nominal","scale":{"domain":["S","R","G","B"],"range":["#2f6a8f","#8e2a25","#2b6c34","#2c4f92"]},"legend":null}}},
  {"data":{"name":"txt"},"transform":[{"filter":"datum.p=='b' && datum.k=='tag'"}],"mark":{"type":"text","align":"left","baseline":"middle","fontSize":16},"encoding":{"text":{"field":"t"}}},
  {"data":{"name":"txt"},"transform":[{"filter":"datum.p=='b' && datum.k=='ital'"}],"mark":{"type":"text","align":"left","baseline":"middle","fontSize":24,"fontStyle":"italic"},"encoding":{"text":{"field":"t"}}},
  {"data":{"name":"txt"},"transform":[{"filter":"datum.p=='b' && datum.k=='title'"}],"mark":{"type":"text","align":"left","baseline":"middle","fontSize":24},"encoding":{"text":{"field":"t"}}},
  {"data":{"name":"txt"},"transform":[{"filter":"datum.p=='b' && datum.k=='sr'"}],"mark":{"type":"text","align":"center","baseline":"middle","fontSize":17,"fontStyle":"italic"},"encoding":{"text":{"field":"t"},"color":{"field":"s","type":"nominal","scale":{"domain":["S","R","G","B"],"range":["#2f6a8f","#8e2a25","#2b6c34","#2c4f92"]},"legend":null}}},
  {"data":{"name":"txt"},"transform":[{"filter":"datum.p=='b' && datum.k=='sr'"}],"mark":{"type":"text","align":"center","baseline":"middle","fontSize":17,"fontWeight":"normal","dx":-11},"encoding":{"text":{"value":"("},"color":{"field":"s","type":"nominal","scale":{"domain":["S","R","G","B"],"range":["#2f6a8f","#8e2a25","#2b6c34","#2c4f92"]},"legend":null}}},
  {"data":{"name":"txt"},"transform":[{"filter":"datum.p=='b' && datum.k=='sr'"}],"mark":{"type":"text","align":"center","baseline":"middle","fontSize":17,"fontWeight":"normal","dx":10},"encoding":{"text":{"value":")"},"color":{"field":"s","type":"nominal","scale":{"domain":["S","R","G","B"],"range":["#2f6a8f","#8e2a25","#2b6c34","#2c4f92"]},"legend":null}}}
 ]},
{"width":323,"height":324,
 "encoding":{"x":{"field":"wl","type":"quantitative","scale":{"domain":[200,375],"nice":false,"zero":false},"axis":{"values":[250,300,350],"labels":false,"title":null}},
  "y":{"field":"v","type":"quantitative","scale":{"domain":[-45,46],"nice":false,"zero":false},"axis":{"values":[-40,-20,0,20,40],"title":"Δε / M⁻¹ cm⁻¹"}}},
 "layer":[
  {"data":{"name":"curves"},"transform":[{"filter":"datum.p=='f'"}],"mark":{"type":"line","interpolate":"monotone","strokeWidth":2.8,"clip":true},"encoding":{"color":{"field":"s","type":"nominal","scale":{"domain":["S","R","G","B"],"range":["#2f6a8f","#8e2a25","#2b6c34","#2c4f92"]},"legend":null}}},
  {"data":{"name":"txt"},"transform":[{"filter":"datum.p=='f' && datum.k=='tag'"}],"mark":{"type":"text","align":"left","baseline":"middle","fontSize":16},"encoding":{"text":{"field":"t"}}},
  {"data":{"name":"txt"},"transform":[{"filter":"datum.p=='f' && datum.k=='ital'"}],"mark":{"type":"text","align":"left","baseline":"middle","fontSize":24,"fontStyle":"italic"},"encoding":{"text":{"field":"t"}}},
  {"data":{"name":"txt"},"transform":[{"filter":"datum.p=='f' && datum.k=='title'"}],"mark":{"type":"text","align":"left","baseline":"middle","fontSize":24},"encoding":{"text":{"field":"t"}}},
  {"data":{"name":"txt"},"transform":[{"filter":"datum.p=='f' && datum.k=='sr'"}],"mark":{"type":"text","align":"center","baseline":"middle","fontSize":17,"fontStyle":"italic"},"encoding":{"text":{"field":"t"},"color":{"field":"s","type":"nominal","scale":{"domain":["S","R","G","B"],"range":["#2f6a8f","#8e2a25","#2b6c34","#2c4f92"]},"legend":null}}},
  {"data":{"name":"txt"},"transform":[{"filter":"datum.p=='f' && datum.k=='sr'"}],"mark":{"type":"text","align":"center","baseline":"middle","fontSize":17,"fontWeight":"normal","dx":-11},"encoding":{"text":{"value":"("},"color":{"field":"s","type":"nominal","scale":{"domain":["S","R","G","B"],"range":["#2f6a8f","#8e2a25","#2b6c34","#2c4f92"]},"legend":null}}},
  {"data":{"name":"txt"},"transform":[{"filter":"datum.p=='f' && datum.k=='sr'"}],"mark":{"type":"text","align":"center","baseline":"middle","fontSize":17,"fontWeight":"normal","dx":10},"encoding":{"text":{"value":")"},"color":{"field":"s","type":"nominal","scale":{"domain":["S","R","G","B"],"range":["#2f6a8f","#8e2a25","#2b6c34","#2c4f92"]},"legend":null}}}
 ]},
{"width":323,"height":324,
 "encoding":{"x":{"field":"wl","type":"quantitative","scale":{"domain":[200,375],"nice":false,"zero":false},"axis":{"values":[250,300,350],"labels":false,"title":null}},
  "y":{"field":"v","type":"quantitative","scale":{"domain":[-50.5,50.75],"nice":false,"zero":false},"axis":{"values":[-40,-20,0,20,40],"title":"Δε / M⁻¹ cm⁻¹"}}},
 "layer":[
  {"data":{"name":"curves"},"transform":[{"filter":"datum.p=='c'"}],"mark":{"type":"line","interpolate":"monotone","strokeWidth":2.8,"clip":true},"encoding":{"color":{"field":"s","type":"nominal","scale":{"domain":["S","R","G","B"],"range":["#2f6a8f","#8e2a25","#2b6c34","#2c4f92"]},"legend":null}}},
  {"data":{"name":"txt"},"transform":[{"filter":"datum.p=='c' && datum.k=='tag'"}],"mark":{"type":"text","align":"left","baseline":"middle","fontSize":16},"encoding":{"text":{"field":"t"}}},
  {"data":{"name":"txt"},"transform":[{"filter":"datum.p=='c' && datum.k=='title'"}],"mark":{"type":"text","align":"left","baseline":"middle","fontSize":24},"encoding":{"text":{"field":"t"}}},
  {"data":{"name":"txt"},"transform":[{"filter":"datum.p=='c' && datum.k=='sr'"}],"mark":{"type":"text","align":"center","baseline":"middle","fontSize":17,"fontStyle":"italic"},"encoding":{"text":{"field":"t"},"color":{"field":"s","type":"nominal","scale":{"domain":["S","R","G","B"],"range":["#2f6a8f","#8e2a25","#2b6c34","#2c4f92"]},"legend":null}}},
  {"data":{"name":"txt"},"transform":[{"filter":"datum.p=='c' && datum.k=='sr'"}],"mark":{"type":"text","align":"center","baseline":"middle","fontSize":17,"fontWeight":"normal","dx":-11},"encoding":{"text":{"value":"("},"color":{"field":"s","type":"nominal","scale":{"domain":["S","R","G","B"],"range":["#2f6a8f","#8e2a25","#2b6c34","#2c4f92"]},"legend":null}}},
  {"data":{"name":"txt"},"transform":[{"filter":"datum.p=='c' && datum.k=='sr'"}],"mark":{"type":"text","align":"center","baseline":"middle","fontSize":17,"fontWeight":"normal","dx":10},"encoding":{"text":{"value":")"},"color":{"field":"s","type":"nominal","scale":{"domain":["S","R","G","B"],"range":["#2f6a8f","#8e2a25","#2b6c34","#2c4f92"]},"legend":null}}}
 ]},
{"width":323,"height":324,
 "encoding":{"x":{"field":"wl","type":"quantitative","scale":{"domain":[200,375],"nice":false,"zero":false},"axis":{"values":[250,300,350],"labels":false,"title":null}},
  "y":{"field":"v","type":"quantitative","scale":{"domain":[-45,46],"nice":false,"zero":false},"axis":{"values":[-40,-20,0,20,40],"title":"Δε / M⁻¹ cm⁻¹"}}},
 "layer":[
  {"data":{"name":"curves"},"transform":[{"filter":"datum.p=='g'"}],"mark":{"type":"line","interpolate":"monotone","strokeWidth":2.8,"clip":true},"encoding":{"color":{"field":"s","type":"nominal","scale":{"domain":["S","R","G","B"],"range":["#2f6a8f","#8e2a25","#2b6c34","#2c4f92"]},"legend":null}}},
  {"data":{"name":"txt"},"transform":[{"filter":"datum.p=='g' && datum.k=='tag'"}],"mark":{"type":"text","align":"left","baseline":"middle","fontSize":16},"encoding":{"text":{"field":"t"}}},
  {"data":{"name":"txt"},"transform":[{"filter":"datum.p=='g' && datum.k=='title'"}],"mark":{"type":"text","align":"left","baseline":"middle","fontSize":24},"encoding":{"text":{"field":"t"}}},
  {"data":{"name":"txt"},"transform":[{"filter":"datum.p=='g' && datum.k=='sr'"}],"mark":{"type":"text","align":"center","baseline":"middle","fontSize":17,"fontStyle":"italic"},"encoding":{"text":{"field":"t"},"color":{"field":"s","type":"nominal","scale":{"domain":["S","R","G","B"],"range":["#2f6a8f","#8e2a25","#2b6c34","#2c4f92"]},"legend":null}}},
  {"data":{"name":"txt"},"transform":[{"filter":"datum.p=='g' && datum.k=='sr'"}],"mark":{"type":"text","align":"center","baseline":"middle","fontSize":17,"fontWeight":"normal","dx":-11},"encoding":{"text":{"value":"("},"color":{"field":"s","type":"nominal","scale":{"domain":["S","R","G","B"],"range":["#2f6a8f","#8e2a25","#2b6c34","#2c4f92"]},"legend":null}}},
  {"data":{"name":"txt"},"transform":[{"filter":"datum.p=='g' && datum.k=='sr'"}],"mark":{"type":"text","align":"center","baseline":"middle","fontSize":17,"fontWeight":"normal","dx":10},"encoding":{"text":{"value":")"},"color":{"field":"s","type":"nominal","scale":{"domain":["S","R","G","B"],"range":["#2f6a8f","#8e2a25","#2b6c34","#2c4f92"]},"legend":null}}}
 ]},
{"width":323,"height":321,
 "encoding":{"x":{"field":"wl","type":"quantitative","scale":{"domain":[200,375],"nice":false,"zero":false},"axis":{"values":[200,250,300,350],"title":"Wavelength, nm"}},
  "y":{"field":"v","type":"quantitative","scale":{"domain":[0,4],"nice":false,"zero":false},"axis":{"values":[0,1,2,3,4],"labelExpr":"datum.value == 4 ? '' : datum.label","title":"10⁻⁴ ε / M⁻¹ cm⁻¹"}}},
 "layer":[
  {"data":{"name":"curves"},"transform":[{"filter":"datum.p=='d'"}],"mark":{"type":"line","interpolate":"monotone","strokeWidth":2.8,"clip":true},"encoding":{"color":{"field":"s","type":"nominal","scale":{"domain":["S","R","G","B"],"range":["#2f6a8f","#8e2a25","#2b6c34","#2c4f92"]},"legend":null},"strokeDash":{"field":"s","type":"nominal","scale":{"domain":["S","R","G","B"],"range":[[1,0],[1,0],[1,0],[5,3]]},"legend":null}}},
  {"data":{"name":"txt"},"transform":[{"filter":"datum.p=='d' && datum.k=='tag'"}],"mark":{"type":"text","align":"left","baseline":"middle","fontSize":16},"encoding":{"text":{"field":"t"}}},
  {"data":{"name":"txt"},"transform":[{"filter":"datum.p=='d' && datum.k=='ion'"}],"mark":{"type":"text","align":"right","baseline":"middle","fontSize":29},"encoding":{"text":{"field":"t"}}},
  {"data":{"name":"txt"},"transform":[{"filter":"datum.p=='d' && datum.k=='sup'"}],"mark":{"type":"text","align":"left","baseline":"middle","fontSize":14},"encoding":{"text":{"field":"t"}}}
 ]},
{"width":323,"height":321,
 "encoding":{"x":{"field":"wl","type":"quantitative","scale":{"domain":[200,375],"nice":false,"zero":false},"axis":{"values":[200,250,300,350],"title":"Wavelength, nm"}},
  "y":{"field":"v","type":"quantitative","scale":{"domain":[0,4],"nice":false,"zero":false},"axis":{"values":[0,1,2,3,4],"labelExpr":"datum.value == 4 ? '' : datum.label","title":"10⁻⁴ ε / M⁻¹ cm⁻¹"}}},
 "layer":[
  {"data":{"name":"curves"},"transform":[{"filter":"datum.p=='h'"}],"mark":{"type":"line","interpolate":"monotone","strokeWidth":2.8,"clip":true},"encoding":{"color":{"field":"s","type":"nominal","scale":{"domain":["S","R","G","B"],"range":["#2f6a8f","#8e2a25","#2b6c34","#2c4f92"]},"legend":null},"strokeDash":{"field":"s","type":"nominal","scale":{"domain":["S","R","G","B"],"range":[[1,0],[1,0],[1,0],[5,3]]},"legend":null}}},
  {"data":{"name":"txt"},"transform":[{"filter":"datum.p=='h' && datum.k=='tag'"}],"mark":{"type":"text","align":"left","baseline":"middle","fontSize":16},"encoding":{"text":{"field":"t"}}},
  {"data":{"name":"txt"},"transform":[{"filter":"datum.p=='h' && datum.k=='ion'"}],"mark":{"type":"text","align":"right","baseline":"middle","fontSize":29},"encoding":{"text":{"field":"t"}}},
  {"data":{"name":"txt"},"transform":[{"filter":"datum.p=='h' && datum.k=='sup'"}],"mark":{"type":"text","align":"left","baseline":"middle","fontSize":14},"encoding":{"text":{"field":"t"}}}
 ]}
],
"config": {
 "view": {"stroke": null},
 "axis": {"grid": false, "domainColor": "#3c3c3c", "domainWidth": 1.5, "tickColor": "#3c3c3c", "tickWidth": 1.5, "labelFont": "Liberation Sans", "labelFontWeight": "bold", "labelColor": "#1c1c1c", "titleFont": "Liberation Sans", "titleFontWeight": "bold", "titleColor": "#1c1c1c"},
 "axisY": {"tickSize": 6, "labelPadding": 4, "labelFontSize": 16, "titleFontSize": 18, "titlePadding": 20},
 "axisX": {"tickSize": -6, "labelFlush": false, "labelFontSize": 17, "labelPadding": 19, "titleFontSize": 19, "titlePadding": 12},
 "text": {"font": "Liberation Sans", "fontWeight": "bold", "color": "#1c1c1c"}
}
}
